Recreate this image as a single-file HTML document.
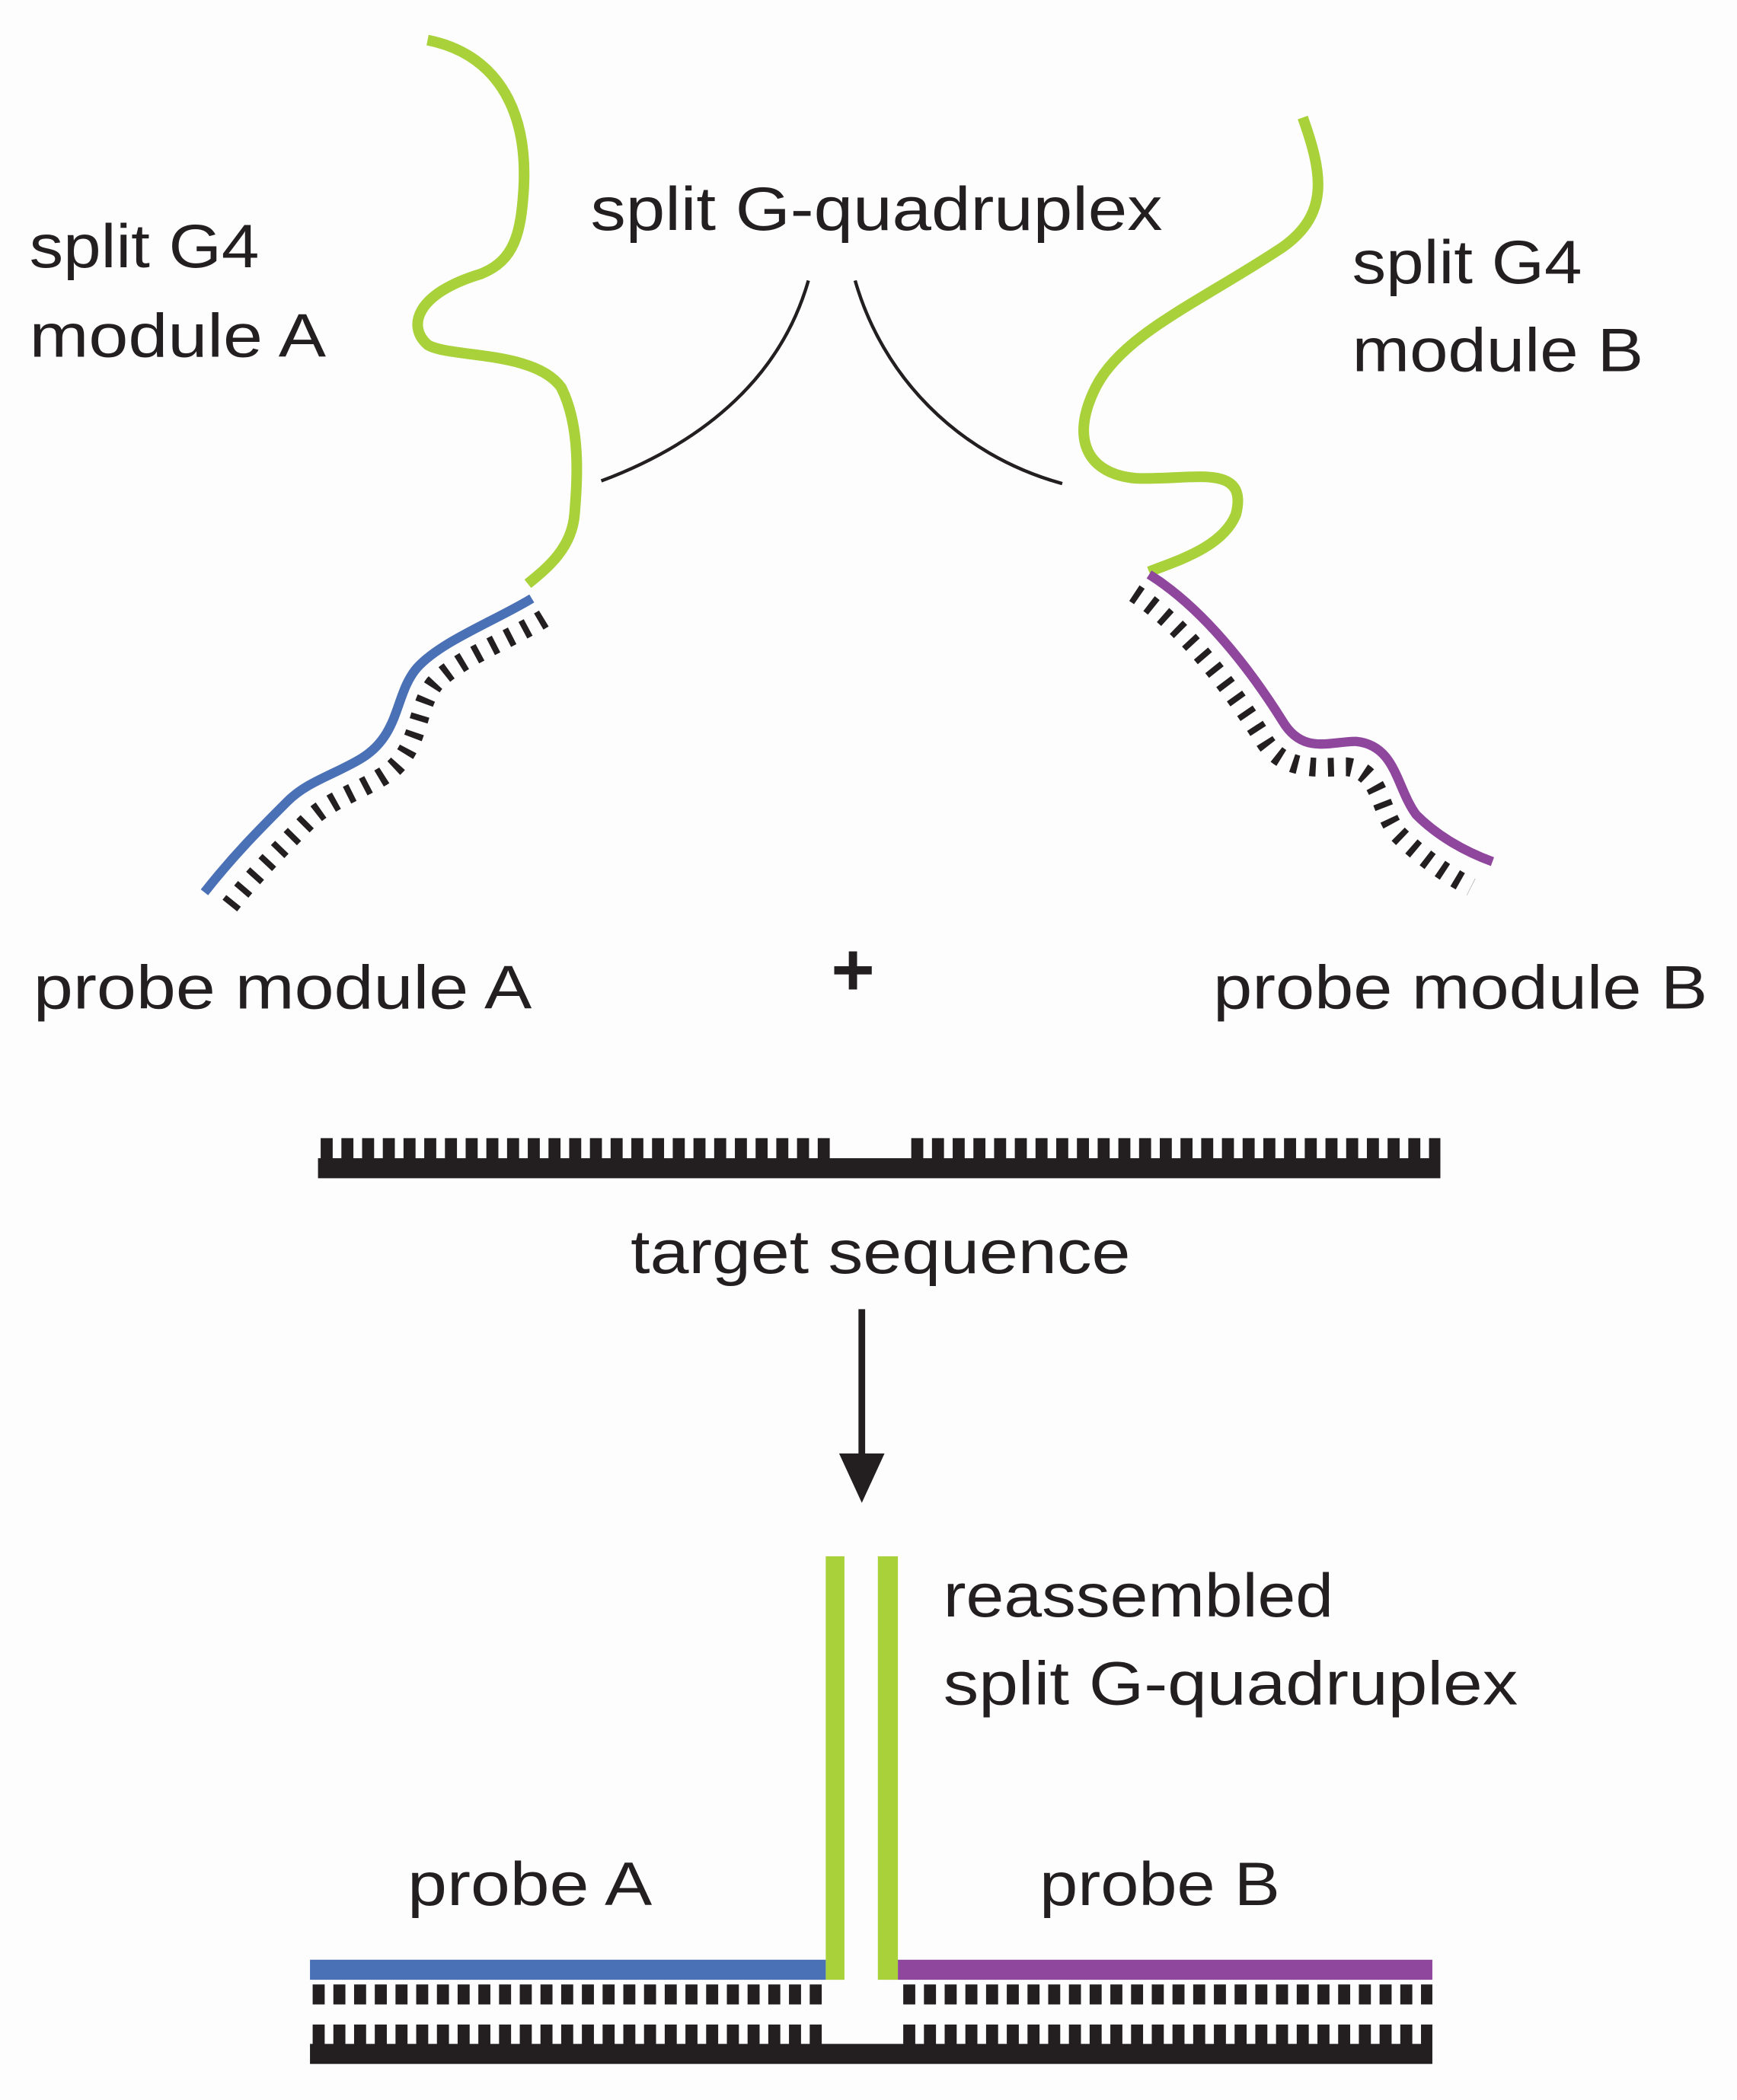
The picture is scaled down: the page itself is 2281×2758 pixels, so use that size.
<!DOCTYPE html>
<html><head><meta charset="utf-8"><style>
html,body{margin:0;padding:0;background:#fdfdfd;}
svg{display:block;}
text{font-family:"Liberation Sans",sans-serif;fill:#231f20;}
</style></head><body>
<svg width="2281" height="2758" viewBox="0 0 1300 1572" preserveAspectRatio="none" xmlns="http://www.w3.org/2000/svg">
<rect width="1300" height="1572" fill="#fdfdfd"/>
<text x="442" y="172" font-size="46" textLength="428" lengthAdjust="spacingAndGlyphs">split G-quadruplex</text>
<text x="22" y="200" font-size="46" textLength="172" lengthAdjust="spacingAndGlyphs">split G4</text>
<text x="22" y="267" font-size="46" textLength="222" lengthAdjust="spacingAndGlyphs">module A</text>
<text x="1012" y="212" font-size="46" textLength="172" lengthAdjust="spacingAndGlyphs">split G4</text>
<text x="1012" y="278" font-size="46" textLength="218" lengthAdjust="spacingAndGlyphs">module B</text>
<text x="25" y="755" font-size="46" textLength="373" lengthAdjust="spacingAndGlyphs">probe module A</text>
<text x="908" y="755" font-size="46" textLength="370" lengthAdjust="spacingAndGlyphs">probe module B</text>
<text x="622" y="745" font-size="56" font-weight="bold">+</text>
<text x="472" y="953" font-size="46" textLength="374" lengthAdjust="spacingAndGlyphs">target sequence</text>
<text x="706" y="1210" font-size="46" textLength="292" lengthAdjust="spacingAndGlyphs">reassembled</text>
<text x="706" y="1276" font-size="46" textLength="430" lengthAdjust="spacingAndGlyphs">split G-quadruplex</text>
<text x="305" y="1426" font-size="46" textLength="183" lengthAdjust="spacingAndGlyphs">probe A</text>
<text x="778" y="1426" font-size="46" textLength="180" lengthAdjust="spacingAndGlyphs">probe B</text>

<path d="M450,360 C530,330 585,280 605,210" fill="none" stroke="#231f20" stroke-width="2.5"/>
<path d="M640,210 C660,280 715,340 795,362" fill="none" stroke="#231f20" stroke-width="2.5"/>

<path d="M320,30 C370,40 395,80 392,140 C390,175 385,195 360,205 C310,220 305,245 320,258 C335,268 400,262 420,290 C435,320 432,360 430,385 C428,410 410,425 395,437" fill="none" stroke="#a8d13a" stroke-width="8"/>
<path d="M398,448 C370,465 330,480 312,500 C295,520 300,550 270,568 C250,580 230,585 215,600 C195,620 175,640 153,668" fill="none" stroke="#4a70b6" stroke-width="7"/>
<path d="M407,463 C379,480 341,494 325,512 C310,532 315,565 285,582 C265,594 245,600 230,615 C210,635 188,657 168,683" fill="none" stroke="#231f20" stroke-width="14" stroke-dasharray="4.5 9"/>

<path d="M975,88 C990,130 995,160 960,185 C900,225 840,250 820,290 C800,330 815,355 850,358 C890,360 935,345 925,385 C915,410 880,420 860,428" fill="none" stroke="#a8d13a" stroke-width="8"/>
<path d="M860,430 C900,455 935,500 960,540 C975,565 995,555 1015,555 C1045,558 1045,590 1060,610 C1075,625 1095,637 1117,645" fill="none" stroke="#8e479c" stroke-width="7"/>
<path d="M849,444 C887,469 921,514 946,554 C961,579 990,574 1008,574 C1034,577 1031,604 1046,624 C1061,639 1081,654 1101,664" fill="none" stroke="#231f20" stroke-width="14" stroke-dasharray="4.5 9"/>

<rect x="238" y="867" width="840" height="15" fill="#231f20"/>
<line x1="240" y1="860" x2="622" y2="860" stroke="#231f20" stroke-width="16" stroke-dasharray="9 6.5"/>
<line x1="682" y1="860" x2="1078" y2="860" stroke="#231f20" stroke-width="16" stroke-dasharray="9 6.5"/>

<line x1="645" y1="980" x2="645" y2="1090" stroke="#231f20" stroke-width="5"/>
<polygon points="628,1088 662,1088 645,1125" fill="#231f20"/>

<rect x="618" y="1165" width="14" height="317" fill="#a8d13a"/>
<rect x="657" y="1165" width="15" height="317" fill="#a8d13a"/>

<rect x="232" y="1467" width="386" height="15" fill="#4a70b6"/>
<rect x="672" y="1467" width="400" height="15" fill="#8e479c"/>
<line x1="234" y1="1493" x2="616" y2="1493" stroke="#231f20" stroke-width="15" stroke-dasharray="9 6.5"/>
<line x1="676" y1="1493" x2="1072" y2="1493" stroke="#231f20" stroke-width="15" stroke-dasharray="9 6.5"/>

<rect x="232" y="1530" width="840" height="15" fill="#231f20"/>
<line x1="234" y1="1523" x2="616" y2="1523" stroke="#231f20" stroke-width="15" stroke-dasharray="9 6.5"/>
<line x1="676" y1="1523" x2="1072" y2="1523" stroke="#231f20" stroke-width="15" stroke-dasharray="9 6.5"/>
</svg>
</body></html>
